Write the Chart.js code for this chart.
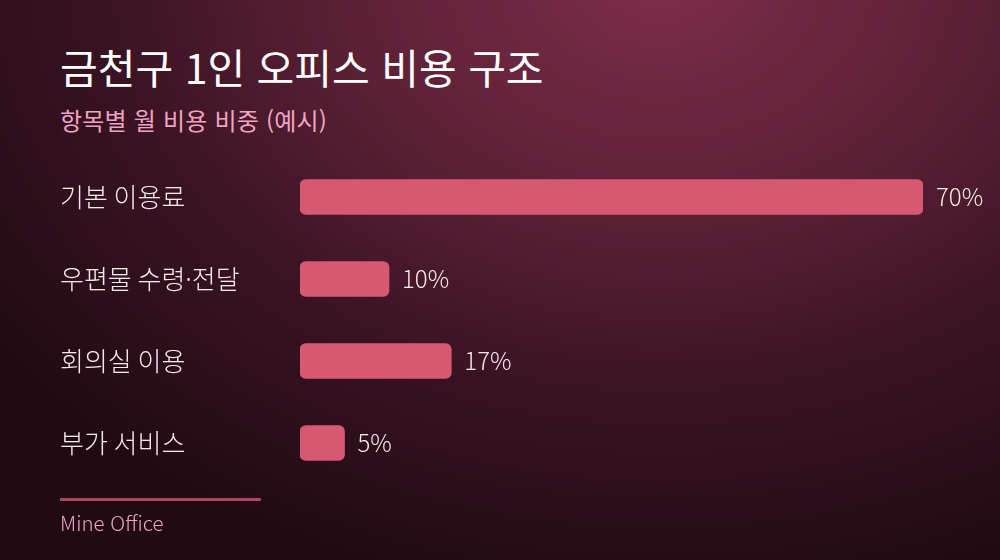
<!DOCTYPE html>
<html lang="ko">
<head>
<meta charset="utf-8">
<script src="https://cdn.jsdelivr.net/npm/chart.js@4.4.1/dist/chart.umd.min.js"></script>
<style>
  html, body { margin: 0; padding: 0; }
  body {
    width: 1000px; height: 560px; overflow: hidden; position: relative;
    font-family: "Noto Sans CJK KR", "Noto Sans", sans-serif;
    background: radial-gradient(ellipse 820px 620px at 66% -4%, #7e2d4a 0%, #5c2136 38%, #371221 70%, #210b13 100%);
  }
  .txt { position: absolute; line-height: 1; white-space: nowrap; font-weight: 300; }
  #title { left: 60px; top: 46px; font-size: 41px; font-weight: 400; color: #ffffff; }
  #subtitle { left: 60px; top: 108px; font-size: 24px; font-weight: 400; letter-spacing: 0.2px; color: #f1a3c4; }
  #rule { position: absolute; left: 60px; top: 498px; width: 201px; height: 3px; background: #ad4563; }
  #source { left: 60px; top: 512px; font-size: 20.5px; color: #f0a2c3; }
  #wrap { position: absolute; left: 0; top: 0; width: 1000px; height: 560px; }
</style>
</head>
<body>
<div id="title" class="txt">금천구 1인 오피스 비용 구조</div>
<div id="subtitle" class="txt">항목별 월 비용 비중 (예시)</div>
<div id="wrap"><canvas id="barChart"></canvas></div>
<div id="rule"></div>
<div id="source" class="txt">Mine Office</div>
<script>
  var categories = ["기본 이용료", "우편물 수령·전달", "회의실 이용", "부가 서비스"];
  var shares = [70, 10, 17, 5];

  // value labels at the end of each bar
  var valueLabels = {
    id: 'valueLabels',
    afterDatasetsDraw: function(chart) {
      var ctx = chart.ctx;
      var meta = chart.getDatasetMeta(0);
      ctx.save();
      ctx.font = '300 24px "Noto Sans CJK KR", "Noto Sans", sans-serif';
      ctx.fillStyle = '#f6e9ee';
      ctx.textAlign = 'left';
      ctx.textBaseline = 'middle';
      meta.data.forEach(function(bar, i) {
        ctx.fillText(shares[i] + '%', bar.x + 13, bar.y);
      });
      ctx.restore();
    }
  };

  var ctxB = document.getElementById("barChart").getContext('2d');
  var myBarChart = new Chart(ctxB, {
    type: 'bar',
    data: {
      labels: categories,
      datasets: [{
        data: shares,
        backgroundColor: '#d75872',
        borderRadius: 6,
        borderSkipped: false,
        barThickness: 35
      }]
    },
    options: {
      indexAxis: 'y',
      responsive: true,
      maintainAspectRatio: false,
      animation: false,
      layout: { padding: { left: 60, right: 77, top: 156, bottom: 76 } },
      plugins: { legend: { display: false }, tooltip: { enabled: false } },
      scales: {
        x: { min: 0, max: 70, display: false },
        y: {
          grid: { display: false },
          border: { display: false },
          afterFit: function(scale) { scale.width = 240; },
          ticks: {
            crossAlign: 'far',
            color: '#f5e9ee',
            padding: 0,
            font: { family: '"Noto Sans CJK KR", "Noto Sans", sans-serif', size: 26, weight: 300 }
          }
        }
      }
    },
    plugins: [valueLabels]
  });
</script>
</body>
</html>
